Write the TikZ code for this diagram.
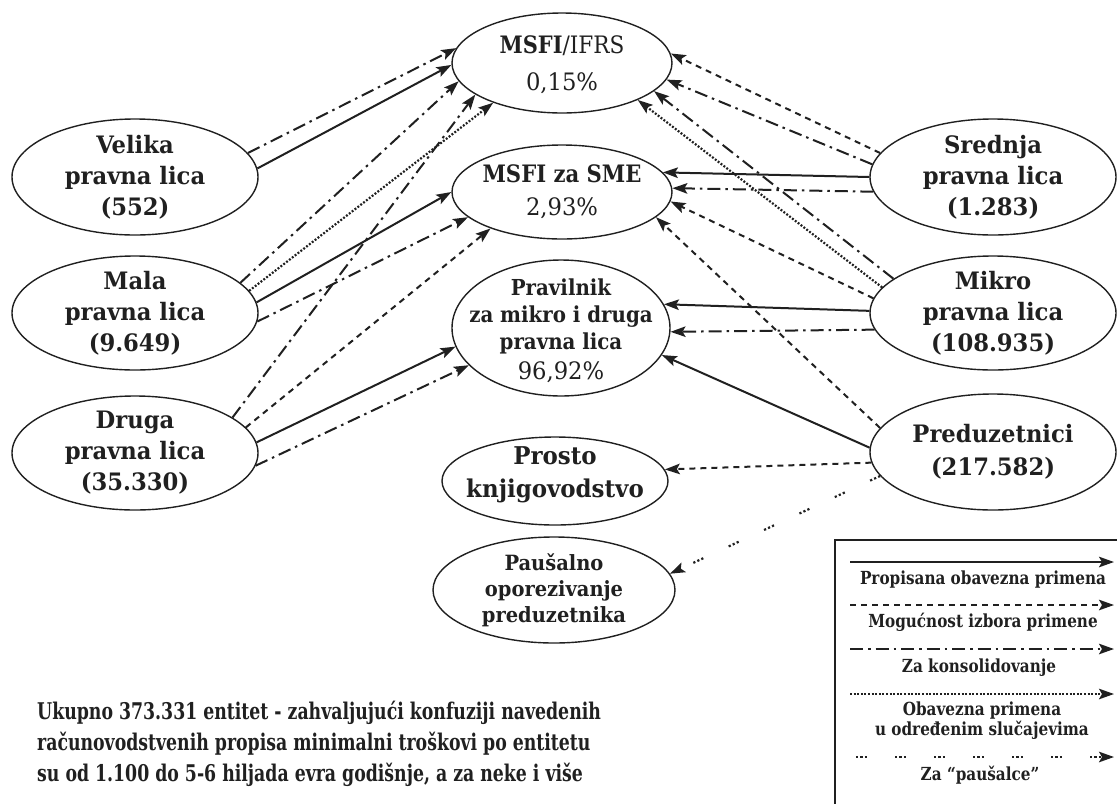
\documentclass[tikz,border=0pt]{standalone}
\usepackage{fontspec}
\setmainfont{DejaVu Serif Condensed}
\usetikzlibrary{arrows.meta,shapes.geometric}
\definecolor{ink}{HTML}{202020}
\newcommand{\st}[1]{\addfontfeature{FakeStretch=#1}}
\newcommand{\pct}[1]{{\mdseries\st{1.05}#1}}
\tikzset{
  ell/.style={ellipse, draw=ink, line width=1.4pt, inner sep=0pt},
  conn/.style={draw=ink, line width=2pt, -{Stealth[length=15pt,width=10.5pt,inset=3pt]}},
  solidc/.style={conn},
  dashc/.style={conn, dash pattern=on 6pt off 5pt},
  ddc/.style={conn, dash pattern=on 13pt off 5pt on 2.5pt off 5pt},
  dotc/.style={conn, line width=2.2pt, dash pattern=on 1.9pt off 1.7pt},
  pausc/.style={conn, line width=2.2pt, dash pattern=on 2.2pt off 2.2pt on 2.2pt off 2.2pt on 2.2pt off 28pt},
  lbl/.style={font=\fontsize{24}{31}\selectfont\bfseries\st{1.05}, text=ink, align=center},
  legtxt/.style={font=\fontsize{18}{20}\selectfont\bfseries\st{0.94}, text=ink, align=center},
}
\begin{document}
\begin{tikzpicture}[x=1pt,y=-1pt]
\useasboundingbox (0,0) rectangle (1117,804);
% central nodes
\node[ell, minimum width=220pt, minimum height=100pt,
  label={[lbl, yshift=-2pt, font=\fontsize{24}{37}\selectfont\bfseries\st{0.97}]center:{MSFI{\mdseries\st{1.0}/IFRS}\\\pct{0,15\%}}}] (ifrs) at (562,63) {};
\node[ell, minimum width=220pt, minimum height=94pt,
  label={[lbl, font=\fontsize{24}{33}\selectfont\bfseries\st{0.98}]center:{MSFI za SME\\\pct{2,93\%}}}] (sme) at (562,192) {};
\node[ell, minimum width=218pt, minimum height=136pt,
  label={[lbl, yshift=-3pt, font=\fontsize{22}{27}\selectfont\bfseries\st{1.0}]center:{Pravilnik\\za mikro i druga\\pravna lica\\[3pt]{\fontsize{24}{27}\selectfont\pct{96,92\%}}}}] (prav) at (561,328) {};
\node[ell, minimum width=226pt, minimum height=88pt,
  label={[lbl, yshift=6pt, font=\fontsize{24.5}{33}\selectfont\bfseries\st{1.04}]center:{Prosto\\knjigovodstvo}}] (prosto) at (555,481) {};
\node[ell, minimum width=242pt, minimum height=106pt,
  label={[lbl, font=\fontsize{21}{26}\selectfont\bfseries\st{1.03}]center:{Paušalno\\oporezivanje\\preduzetnika}}] (paus) at (554,590) {};
% left nodes
\node[ell, minimum width=246pt, minimum height=116pt,
  label={[lbl]center:{Velika\\pravna lica\\(552)}}] (velika) at (135,177) {};
\node[ell, minimum width=246pt, minimum height=114pt,
  label={[lbl]center:{Mala\\pravna lica\\(9.649)}}] (mala) at (135,313) {};
\node[ell, minimum width=246pt, minimum height=114pt,
  label={[lbl]center:{Druga\\pravna lica\\(35.330)}}] (druga) at (135,453) {};
% right nodes
\node[ell, minimum width=246pt, minimum height=116pt,
  label={[lbl]center:{Srednja\\pravna lica\\(1.283)}}] (srednja) at (993,177) {};
\node[ell, minimum width=246pt, minimum height=114pt,
  label={[lbl]center:{Mikro\\pravna lica\\(108.935)}}] (mikro) at (993,313) {};
\node[ell, minimum width=246pt, minimum height=116pt,
  label={[lbl, font=\fontsize{24}{33}\selectfont\bfseries\st{1.05}]center:{Preduzetnici\\(217.582)}}] (pred) at (993,452) {};
% left connectors
\draw[ddc]    (velika.12) -- (ifrs.172);
\draw[solidc] (velika.4)  -- (ifrs.181);
\draw[ddc]    (mala.16)   -- (ifrs.190);
\draw[dotc]   (mala.11)   -- (ifrs.210);
\draw[ddc]    (druga.20)  -- (ifrs.200);
\draw[solidc] (mala.5)    -- (sme.180);
\draw[ddc]    (mala.-4)   -- (sme.195);
\draw[dashc]  (druga.13)  -- (sme.207);
\draw[solidc] (druga.5)   -- (prav.190);
\draw[ddc]    (druga.-6)  -- (prav.202);
% right connectors
\draw[dashc]  (srednja.168) -- (ifrs.5);
\draw[ddc]    (srednja.174) -- (ifrs.-9);
\draw[ddc]    (mikro.161)   -- (ifrs.-17);
\draw[dotc]   (mikro.167)   -- (ifrs.-26);
\draw[solidc] (srednja.180) -- (sme.11);
\draw[ddc]    (srednja.187) -- (sme.2);
\draw[dashc]  (mikro.173)   -- (sme.-5);
\draw[dashc]  (pred.168)    -- (sme.-15);
\draw[solidc] (mikro.179)   -- (prav.13);
\draw[ddc]    (mikro.188)   -- (prav.-2);
\draw[solidc] (pred.178)    -- (prav.-15);
\draw[dashc]  (pred.185)    -- (prosto.6);
\draw[pausc]  (pred.192)    -- (paus.8);
% legend
\draw[ink, line width=1.4pt] (1117,540) -- (835,540) -- (835,804);
\coordinate (l1a) at (850,562); \coordinate (l1b) at (1114,562);
\coordinate (l2a) at (850,605); \coordinate (l2b) at (1114,605);
\coordinate (l3a) at (850,649); \coordinate (l3b) at (1114,649);
\coordinate (l4a) at (850,694); \coordinate (l4b) at (1114,694);
\coordinate (l5a) at (856,757); \coordinate (l5b) at (1114,757);
\draw[solidc] (l1a) -- (l1b);
\draw[dashc]  (l2a) -- (l2b);
\draw[ddc]    (l3a) -- (l3b);
\draw[dotc]   (l4a) -- (l4b);
\draw[pausc]  (l5a) -- (l5b);
\node[legtxt, anchor=base] (t1) at (983,584) {Propisana obavezna primena};
\node[legtxt, anchor=base] (t2) at (983,627) {Mogućnost izbora primene};
\node[legtxt, anchor=base] (t3) at (979,672) {Za konsolidovanje};
\node[legtxt, anchor=center] (t4) at (982,721) {Obavezna primena\\u određenim slučajevima};
\node[legtxt, anchor=base] (t5) at (980,780) {Za “paušalce”};
% bottom text
\node[anchor=north west, font=\fontsize{23}{31}\selectfont\bfseries\st{0.836}, text=ink, align=left, inner sep=0pt] (total) at (37,701)
  {Ukupno 373.331 entitet - zahvaljujući konfuziji navedenih\\računovodstvenih propisa minimalni troškovi po entitetu\\su od 1.100 do 5-6 hiljada evra godišnje, a za neke i više};
\end{tikzpicture}
\end{document}
